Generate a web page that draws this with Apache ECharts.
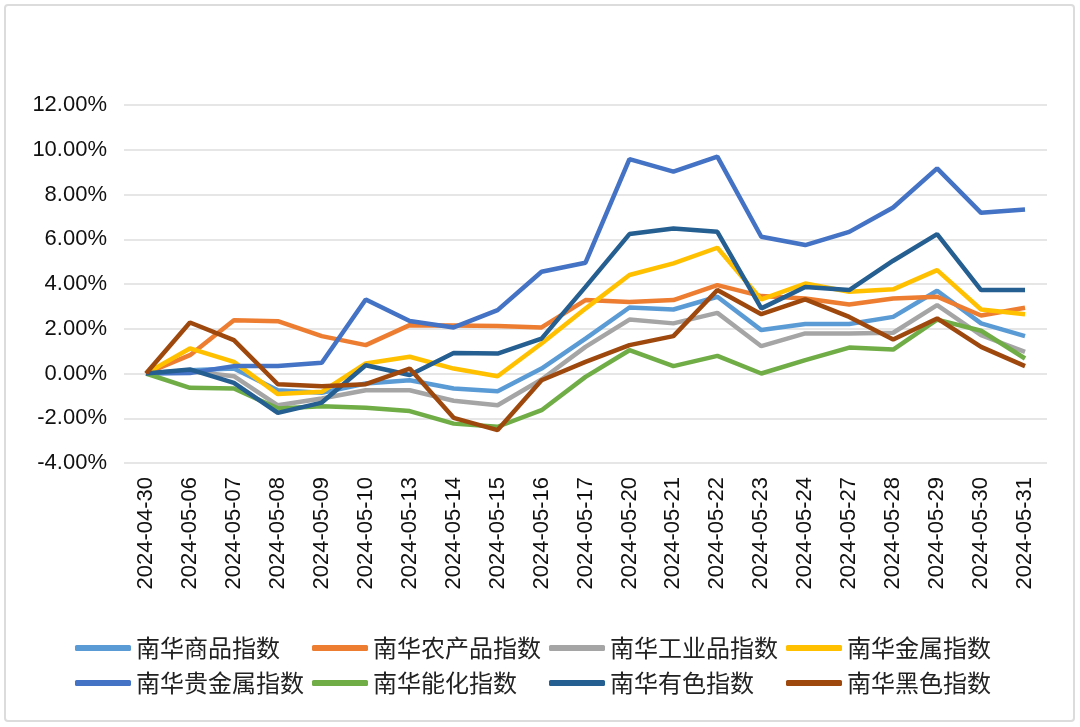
<!DOCTYPE html>
<html><head><meta charset="utf-8">
<script src="https://cdn.jsdelivr.net/npm/echarts@6/dist/echarts.min.js"></script>
<style>html,body{margin:0;padding:0;background:#fff}#c{width:1080px;height:727px}</style>
</head><body><div id="c"></div>
<script>
const dates = ['2024-04-30','2024-05-06','2024-05-07','2024-05-08','2024-05-09','2024-05-10','2024-05-13','2024-05-14','2024-05-15','2024-05-16','2024-05-17','2024-05-20','2024-05-21','2024-05-22','2024-05-23','2024-05-24','2024-05-27','2024-05-28','2024-05-29','2024-05-30','2024-05-31'];
const names = ['南华商品指数','南华农产品指数','南华工业品指数','南华金属指数','南华贵金属指数','南华能化指数','南华有色指数','南华黑色指数'];
const colors = ['#5B9BD5','#ED7D31','#A5A5A5','#FFC000','#4472C4','#70AD47','#255E91','#9E480E'];
const commodity   = [0, 0.15, 0.22, -0.75, -0.86, -0.45, -0.30, -0.67, -0.79, 0.22, 1.56, 2.95, 2.86, 3.43, 1.94, 2.21, 2.21, 2.53, 3.70, 2.24, 1.67];
const agri        = [0, 0.82, 2.38, 2.34, 1.67, 1.27, 2.16, 2.15, 2.12, 2.06, 3.28, 3.20, 3.28, 3.95, 3.46, 3.35, 3.08, 3.35, 3.43, 2.59, 2.94];
const industrial  = [0, 0.10, -0.12, -1.42, -1.12, -0.75, -0.75, -1.22, -1.42, -0.27, 1.19, 2.41, 2.24, 2.71, 1.22, 1.79, 1.79, 1.82, 3.06, 1.71, 0.97];
const metals      = [0, 1.12, 0.52, -0.92, -0.82, 0.45, 0.75, 0.22, -0.12, 1.34, 2.90, 4.40, 4.92, 5.62, 3.31, 4.02, 3.65, 3.76, 4.62, 2.86, 2.65];
const precious    = [0, 0.02, 0.33, 0.33, 0.48, 3.31, 2.35, 2.06, 2.83, 4.55, 4.95, 9.58, 9.02, 9.69, 6.11, 5.74, 6.33, 7.42, 9.17, 7.18, 7.33];
const energyChem  = [0, -0.64, -0.67, -1.56, -1.46, -1.53, -1.68, -2.24, -2.38, -1.64, -0.15, 1.04, 0.33, 0.79, 0.00, 0.60, 1.16, 1.07, 2.41, 1.91, 0.67];
const nonferrous  = [0, 0.18, -0.42, -1.76, -1.30, 0.37, -0.07, 0.92, 0.89, 1.56, 3.87, 6.23, 6.48, 6.33, 2.91, 3.87, 3.73, 5.04, 6.23, 3.73, 3.73];
const ferrous     = [0, 2.28, 1.49, -0.48, -0.57, -0.48, 0.22, -1.98, -2.53, -0.30, 0.52, 1.27, 1.67, 3.73, 2.65, 3.31, 2.53, 1.52, 2.46, 1.19, 0.33];
const seriesData = [commodity, agri, industrial, metals, precious, energyChem, nonferrous, ferrous];
const yTicks = {min: -4, max: 12, interval: 2};

const chart = echarts.init(document.getElementById('c'), null, {renderer: 'canvas'});
const legendLefts = [75, 312, 549, 786];
const legendTops = [636, 671];
const legends = names.map((n, i) => ({
  data: [n],
  left: legendLefts[i % 4],
  top: legendTops[Math.floor(i / 4)],
  icon: 'roundRect',
  itemWidth: 56,
  itemHeight: 6,
  padding: 0,
  textStyle: {fontFamily: 'Noto Sans CJK SC', fontSize: 24, color: '#222'}
}));
chart.setOption({
  backgroundColor: '#fff',
  animation: false,
  graphic: [{type: 'rect', shape: {x: 5, y: 5, width: 1069, height: 716, r: 3}, style: {fill: 'none', stroke: '#dcdcdc', lineWidth: 2}}],
  legend: legends,
  grid: {left: 124, right: 33, top: 105, bottom: 264, containLabel: false},
  xAxis: {
    type: 'category', data: dates, boundaryGap: true,
    axisLine: {show: false}, axisTick: {show: false},
    axisLabel: {rotate: 90, margin: 14, fontFamily: 'Liberation Sans', fontSize: 22, color: '#111', interval: 0}
  },
  yAxis: {
    type: 'value', min: yTicks.min, max: yTicks.max, interval: yTicks.interval,
    axisLine: {show: false}, axisTick: {show: false},
    axisLabel: {margin: 17, fontFamily: 'Liberation Sans', fontSize: 22, color: '#111', padding: [3, 0, 0, 0], formatter: v => v.toFixed(2) + '%'},
    splitLine: {lineStyle: {color: '#dedede', width: 1.5}}
  },
  series: names.map((n, i) => ({
    name: n, type: 'line', data: seriesData[i], symbol: 'none',
    lineStyle: {color: colors[i], width: 4.5}, itemStyle: {color: colors[i]}
  }))
});
</script></body></html>
